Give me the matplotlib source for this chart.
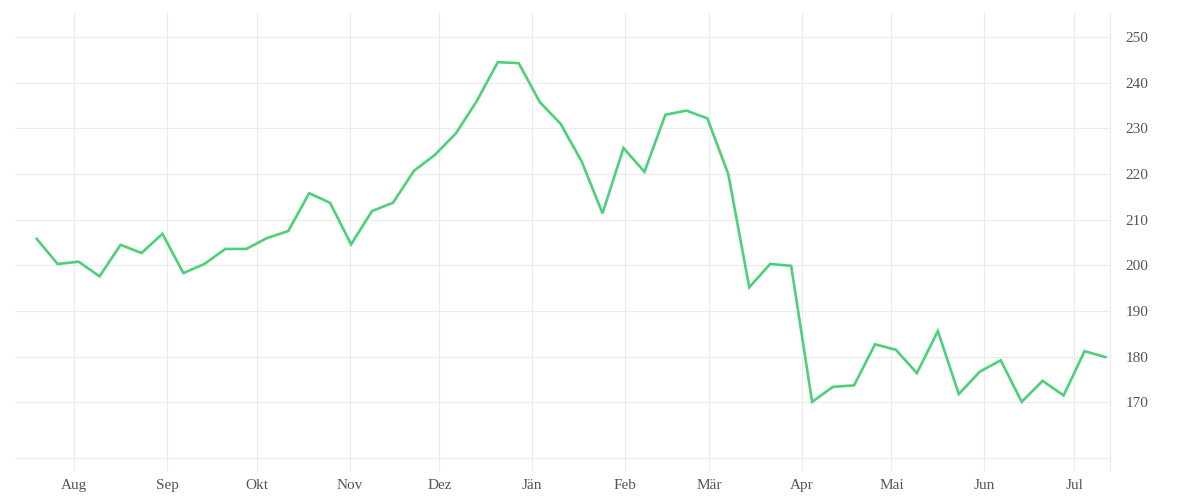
import matplotlib
matplotlib.use("Agg")
import matplotlib.pyplot as plt
import pandas as pd

# ---- data ----
start_date = "2022-07-19 12:00"
n_weeks = 52
values = [205.8, 200.3, 200.8, 197.6, 204.5, 202.7, 206.9, 198.3, 200.3, 203.6,
          203.6, 206.0, 207.5, 215.8, 213.7, 204.6, 211.9, 213.7, 220.7, 224.2,
          228.9, 236.0, 244.5, 244.3, 235.8, 231.0, 222.8, 211.4, 225.7, 220.5,
          233.0, 233.9, 232.2, 220.0, 195.2, 200.3, 199.9, 170.1, 173.4, 173.7,
          182.7, 181.5, 176.4, 185.6, 171.8, 176.7, 179.2, 170.1, 174.7, 171.5,
          181.2, 179.9]
month_labels = ["Aug", "Sep", "Okt", "Nov", "Dez", "Jän", "Feb", "Mär", "Apr", "Mai", "Jun", "Jul"]
month_starts = ["2022-08-01", "2022-09-01", "2022-10-01", "2022-11-01", "2022-12-01",
                "2023-01-01", "2023-02-01", "2023-03-01", "2023-04-01", "2023-05-01",
                "2023-06-01", "2023-07-01"]
y_ticks = [170, 180, 190, 200, 210, 220, 230, 240, 250]

dates = pd.date_range(start_date, periods=n_weeks, freq="7D")

grid_c = "#ebebeb"
text_c = "#555555"
line_c = "#4cd17a"

plt.rcParams["font.family"] = ["Liberation Serif", "DejaVu Serif"]

fig = plt.figure(figsize=(12, 5), dpi=100)
ax = fig.add_axes([15 / 1200, 42 / 500, (1110 - 15) / 1200, (458 - 12) / 500])

ax.plot(dates, values, color=line_c, lw=1.9, solid_joinstyle="miter", zorder=3)

ax.set_xlim(pd.Timestamp("2022-07-12 06:00"), pd.Timestamp("2023-07-13"))
ax.set_ylim(157.8, 255.5)

mt = pd.to_datetime(month_starts)
ax.set_xticks(mt)
ax.set_xticklabels(month_labels)
ax.set_xticks([ax.get_xlim()[1]], minor=True)
ax.tick_params(axis="x", which="both", length=9, width=0.8, color=grid_c,
               labelsize=11, labelcolor=text_c, pad=6)

ax.yaxis.tick_right()
ax.set_yticks(y_ticks)
ax.tick_params(axis="y", length=0, labelsize=11, labelcolor=text_c, pad=11)

ax.grid(True, which="major", color=grid_c, lw=0.8, zorder=0)
for s in ["top", "left"]:
    ax.spines[s].set_visible(False)
ax.spines["bottom"].set_color(grid_c)
ax.spines["bottom"].set_linewidth(0.8)
ax.spines["right"].set_color(grid_c)
ax.spines["right"].set_linewidth(0.8)
ax.set_axisbelow(True)

fig.savefig("out.png", dpi=100, facecolor="white")
